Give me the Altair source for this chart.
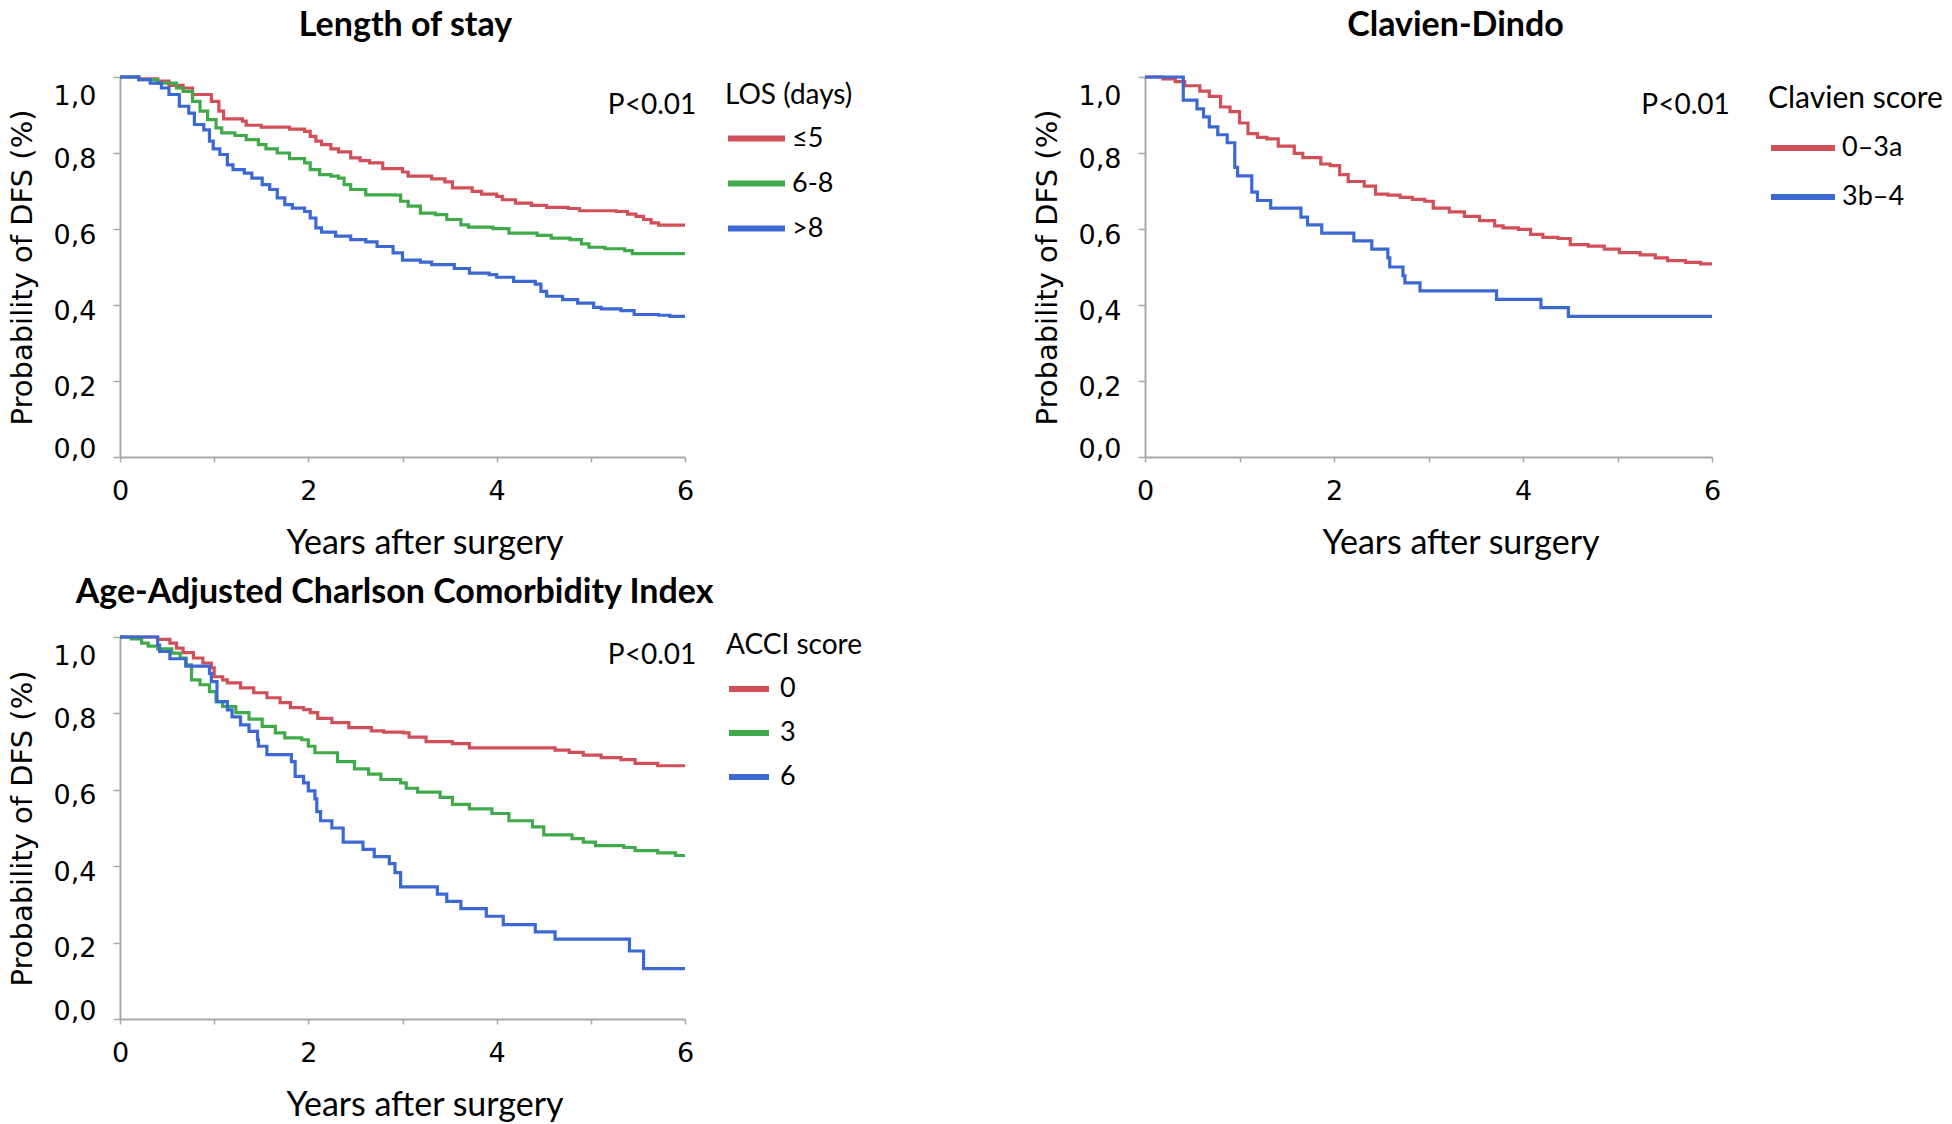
import altair as alt
import pandas as pd

# ---------------- data ----------------
# Length of stay
los_groups = ["≤5", "6-8", ">8"]
los_le5_t = [0, 0.2, 0.4, 0.52, 0.67, 0.77, 0.97, 1.05, 1.1, 1.3, 1.34, 1.5, 1.8, 1.96, 2.02, 2.08, 2.14, 2.24, 2.32, 2.45, 2.55, 2.65, 2.79, 3.0, 3.06, 3.31, 3.45, 3.53, 3.74, 3.84, 4.0, 4.06, 4.2, 4.37, 4.53, 4.76, 4.88, 5.27, 5.39, 5.48, 5.56, 5.64, 5.72, 6.0]
los_le5_s = [1.0, 0.995, 0.989, 0.978, 0.971, 0.954, 0.936, 0.91, 0.89, 0.884, 0.873, 0.868, 0.863, 0.857, 0.844, 0.831, 0.822, 0.811, 0.803, 0.787, 0.78, 0.774, 0.759, 0.75, 0.739, 0.732, 0.724, 0.708, 0.699, 0.692, 0.686, 0.677, 0.668, 0.662, 0.657, 0.654, 0.648, 0.646, 0.639, 0.633, 0.625, 0.616, 0.61, 0.61]
los_6_8_t = [0, 0.2, 0.4, 0.6, 0.67, 0.77, 0.85, 0.93, 1.02, 1.08, 1.22, 1.34, 1.47, 1.55, 1.67, 1.8, 1.96, 2.02, 2.12, 2.24, 2.32, 2.38, 2.45, 2.61, 2.92, 2.98, 3.06, 3.19, 3.35, 3.47, 3.62, 3.7, 3.96, 4.13, 4.43, 4.58, 4.78, 4.9, 4.98, 5.15, 5.36, 5.44, 6.0]
los_6_8_s = [1.0, 0.993, 0.984, 0.971, 0.962, 0.936, 0.91, 0.888, 0.866, 0.853, 0.846, 0.835, 0.822, 0.811, 0.8, 0.785, 0.774, 0.756, 0.743, 0.739, 0.734, 0.717, 0.704, 0.69, 0.689, 0.673, 0.66, 0.642, 0.638, 0.625, 0.611, 0.605, 0.601, 0.589, 0.583, 0.576, 0.572, 0.561, 0.552, 0.548, 0.543, 0.535, 0.535]
los_gt8_t = [0, 0.2, 0.32, 0.44, 0.52, 0.63, 0.73, 0.79, 0.89, 0.95, 0.99, 1.06, 1.14, 1.2, 1.32, 1.4, 1.51, 1.59, 1.67, 1.75, 1.83, 1.96, 2.02, 2.08, 2.14, 2.29, 2.45, 2.61, 2.73, 2.9, 3.0, 3.19, 3.31, 3.55, 3.71, 3.92, 4.0, 4.18, 4.41, 4.47, 4.53, 4.7, 4.86, 5.03, 5.11, 5.32, 5.46, 5.72, 5.84, 6.0]
los_gt8_s = [1.0, 0.993, 0.984, 0.971, 0.954, 0.923, 0.905, 0.875, 0.861, 0.831, 0.811, 0.796, 0.769, 0.756, 0.747, 0.734, 0.717, 0.704, 0.682, 0.664, 0.655, 0.646, 0.629, 0.603, 0.592, 0.581, 0.572, 0.566, 0.554, 0.537, 0.518, 0.513, 0.506, 0.496, 0.484, 0.48, 0.473, 0.462, 0.455, 0.436, 0.423, 0.414, 0.405, 0.394, 0.39, 0.385, 0.375, 0.373, 0.37, 0.37]

# Clavien-Dindo
cd_groups = ["0–3a", "3b–4"]
cd_low_t = [0, 0.19, 0.32, 0.42, 0.58, 0.68, 0.8, 0.9, 1.0, 1.09, 1.19, 1.29, 1.41, 1.58, 1.67, 1.86, 1.96, 2.06, 2.15, 2.32, 2.44, 2.57, 2.7, 2.83, 2.96, 3.05, 3.22, 3.38, 3.54, 3.7, 3.79, 3.95, 4.08, 4.21, 4.37, 4.5, 4.69, 4.86, 5.02, 5.24, 5.4, 5.53, 5.72, 5.88, 6.0]
cd_low_s = [1.0, 0.995, 0.988, 0.977, 0.963, 0.949, 0.921, 0.909, 0.879, 0.851, 0.841, 0.837, 0.818, 0.799, 0.788, 0.771, 0.767, 0.743, 0.725, 0.713, 0.692, 0.689, 0.683, 0.678, 0.673, 0.655, 0.645, 0.633, 0.622, 0.608, 0.603, 0.599, 0.586, 0.578, 0.575, 0.559, 0.555, 0.547, 0.538, 0.532, 0.524, 0.517, 0.512, 0.508, 0.508]
cd_high_t = [0, 0.405, 0.55, 0.62, 0.68, 0.77, 0.87, 0.95, 0.98, 1.13, 1.19, 1.33, 1.65, 1.72, 1.87, 2.21, 2.4, 2.57, 2.59, 2.73, 2.75, 2.91, 3.72, 4.19, 4.48, 6.0]
cd_high_s = [1.0, 0.939, 0.916, 0.895, 0.869, 0.848, 0.827, 0.762, 0.74, 0.697, 0.675, 0.655, 0.631, 0.611, 0.589, 0.569, 0.547, 0.524, 0.5, 0.477, 0.458, 0.437, 0.415, 0.393, 0.37, 0.37]

# Age-adjusted Charlson comorbidity index
acci_groups = ["0", "3", "6"]
acci_0_t = [0, 0.40, 0.53, 0.60, 0.67, 0.78, 0.88, 0.97, 1.0, 1.09, 1.14, 1.28, 1.42, 1.56, 1.70, 1.81, 1.95, 2.02, 2.1, 2.25, 2.43, 2.67, 2.8, 3.01, 3.07, 3.25, 3.53, 3.71, 4.62, 4.77, 4.92, 5.11, 5.32, 5.47, 5.71, 6.0]
acci_0_s = [1.0, 0.994, 0.984, 0.971, 0.959, 0.945, 0.932, 0.919, 0.896, 0.888, 0.880, 0.867, 0.854, 0.841, 0.828, 0.815, 0.810, 0.802, 0.787, 0.776, 0.763, 0.754, 0.751, 0.749, 0.738, 0.726, 0.721, 0.71, 0.704, 0.698, 0.691, 0.684, 0.679, 0.669, 0.663, 0.663]
acci_3_t = [0, 0.12, 0.23, 0.30, 0.40, 0.55, 0.64, 0.70, 0.76, 0.85, 0.95, 1.02, 1.09, 1.23, 1.37, 1.51, 1.65, 1.75, 1.93, 2.0, 2.07, 2.31, 2.49, 2.64, 2.77, 2.98, 3.04, 3.16, 3.4, 3.53, 3.71, 3.95, 4.13, 4.38, 4.5, 4.8, 4.92, 5.05, 5.35, 5.47, 5.71, 5.9, 6.0]
acci_3_s = [1.0, 0.995, 0.984, 0.976, 0.969, 0.958, 0.945, 0.927, 0.888, 0.875, 0.857, 0.831, 0.818, 0.802, 0.785, 0.766, 0.749, 0.736, 0.731, 0.714, 0.697, 0.674, 0.655, 0.641, 0.627, 0.618, 0.604, 0.594, 0.58, 0.562, 0.55, 0.538, 0.519, 0.503, 0.482, 0.472, 0.463, 0.454, 0.449, 0.441, 0.435, 0.428, 0.428]
acci_6_t = [0, 0.40, 0.42, 0.53, 0.70, 0.95, 0.97, 1.03, 1.14, 1.19, 1.28, 1.37, 1.46, 1.47, 1.56, 1.82, 1.86, 1.95, 2.0, 2.07, 2.09, 2.13, 2.25, 2.37, 2.58, 2.7, 2.86, 2.92, 2.98, 3.37, 3.47, 3.62, 3.89, 4.07, 4.41, 4.62, 5.41, 5.56, 6.0]
acci_6_s = [1.0, 0.979, 0.962, 0.943, 0.924, 0.905, 0.883, 0.831, 0.809, 0.791, 0.770, 0.753, 0.731, 0.714, 0.692, 0.674, 0.635, 0.618, 0.597, 0.576, 0.543, 0.519, 0.5, 0.463, 0.444, 0.425, 0.407, 0.383, 0.346, 0.327, 0.308, 0.289, 0.269, 0.247, 0.228, 0.209, 0.178, 0.132, 0.132]

p_label = "P<0.01"
y_ticks = [0, 0.1, 0.2, 0.3, 0.4, 0.5, 0.6, 0.7, 0.8, 0.9, 1.0]
x_ticks = [0, 1, 2, 3, 4, 5, 6]

RED, GREEN, BLUE = "#d14f59", "#40aa4b", "#3c68d4"


def build_df(groups, series):
    frames = []
    for g, (ts, ss) in zip(groups, series):
        frames.append(pd.DataFrame({"t": ts, "s": ss, "g": g}))
    return pd.concat(frames, ignore_index=True)


def panel(df, groups, colors, title, title_dx, title_offset, xtitle_dx, legend_title, leg_title_size,
          leg_x, leg_y, sym_len, row_pad, leg_title_pad, label_off, p_t, p_s, width, height):
    x = alt.X(
        "t:Q",
        scale=alt.Scale(domain=[0, 6], nice=False, zero=False),
        axis=alt.Axis(
            values=x_ticks,
            labelExpr="datum.value % 2 == 0 ? format(datum.value, 'd') : ''",
            labelFlush=False,
            title="Years after surgery",
            titleFont="Lato", titleFontSize=34, titleFontWeight="normal",
            titleX=width / 2 + xtitle_dx, titleY=96, titleAlign="center",
            titleBaseline="alphabetic",
            labelFont="DejaVu Sans", labelFontSize=27, labelPadding=16,
            tickSize=5,
        ),
    )
    y = alt.Y(
        "s:Q",
        scale=alt.Scale(domain=[0, 1], nice=False, zero=True),
        axis=alt.Axis(
            values=y_ticks,
            labelExpr="round(datum.value * 10) % 2 == 0 ? replace(format(datum.value, '.1f'), '.', ',') : ''",
            labelFlush=True, labelOffset=6,
            title="Probability of DFS (%)",
            titleFont="DejaVu Sans", titleFontSize=29, titleFontWeight="normal",
            titlePadding=16,
            labelFont="DejaVu Sans", labelFontSize=27, labelPadding=17,
            tickSize=7,
        ),
    )
    color = alt.Color(
        "g:N",
        scale=alt.Scale(domain=groups, range=colors),
        legend=alt.Legend(
            title=legend_title, orient="none", legendX=leg_x, legendY=leg_y,
            symbolType="stroke", symbolSize=sym_len ** 2, symbolStrokeWidth=6,
            titleFont="Lato", titleFontSize=leg_title_size, titleFontWeight="normal",
            titleColor="black", titlePadding=leg_title_pad,
            labelFont="Lato", labelFontSize=27, labelColor="black",
            labelOffset=label_off, rowPadding=row_pad, padding=0,
        ),
    )
    lines = alt.Chart(df).mark_line(interpolate="step-after", strokeWidth=3.2).encode(
        x=x, y=y, color=color
    )
    ptxt = alt.Chart(pd.DataFrame({"t": [p_t], "s": [p_s], "label": [p_label]})).mark_text(
        font="Lato", fontSize=28, align="center", baseline="middle", color="black"
    ).encode(x="t:Q", y="s:Q", text="label:N")
    return alt.layer(lines, ptxt).properties(
        width=width, height=height,
        title=alt.TitleParams(
            text=title, font="Lato", fontSize=34, fontWeight="bold", color="black",
            anchor="middle", offset=title_offset, dx=title_dx,
        ),
    )


los_df = build_df(los_groups, [(los_le5_t, los_le5_s), (los_6_8_t, los_6_8_s), (los_gt8_t, los_gt8_s)])
cd_df = build_df(cd_groups, [(cd_low_t, cd_low_s), (cd_high_t, cd_high_s)])
acci_df = build_df(acci_groups, [(acci_0_t, acci_0_s), (acci_3_t, acci_3_s), (acci_6_t, acci_6_s)])

p1 = panel(los_df, los_groups, [RED, GREEN, BLUE], "Length of stay", 3, 28, 22, "LOS (days)", 28,
           605, 5, 57, -1, -3, 4, 5.65, 0.923, 565, 380)
p2 = panel(cd_df, cd_groups, [RED, BLUE], "Clavien-Dindo", 27, 28, 32, "Clavien score", 30,
           623, 7, 64, 1, -1, 4, 5.72, 0.925, 567, 380)
p3 = panel(acci_df, acci_groups, [RED, GREEN, BLUE], "Age-Adjusted Charlson Comorbidity Index", -8, 21, 22,
           "ACCI score", 28, 606, -5, 40, 8, 6, 8, 5.65, 0.95, 565, 382)

chart = alt.concat(
    p1, p2, p3, columns=2, spacing={"row": 180, "column": 460}, bounds="flush"
).resolve_scale(color="independent").properties(
    padding=0
).configure_view(stroke=None).configure_axis(
    grid=False, domainColor="#a8a8a8", domainWidth=2, tickColor="#a8a8a8", tickWidth=1.5,
    labelColor="black", titleColor="black",
)

chart.save("out.html", embed_options={"renderer": "svg", "actions": False})
